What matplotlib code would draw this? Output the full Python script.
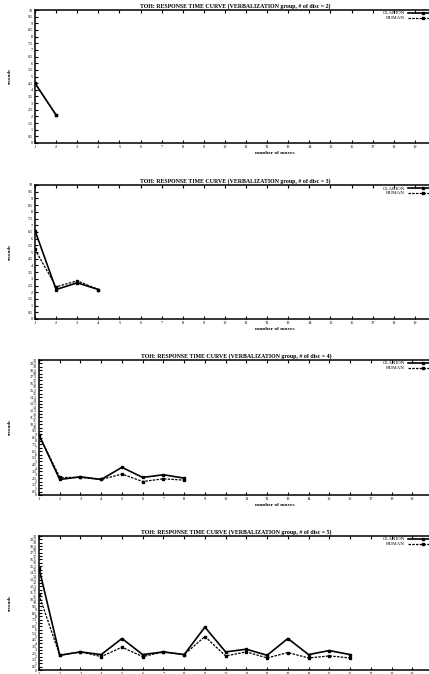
import numpy as np
import matplotlib
matplotlib.use("Agg")
import matplotlib.pyplot as plt

# one panel per number of discs; x = move number
discs = [2, 3, 4, 5]

clarion = [
    [4.5, 2.1],
    [6.6, 2.2, 2.7, 2.2],
    [8.9, 2.3, 2.7, 2.3, 4.1, 2.6, 3.0, 2.5],
    [15.2, 2.2, 2.7, 2.3, 4.7, 2.3, 2.7, 2.3, 6.4, 2.7, 3.1, 2.2, 4.7, 2.3, 2.9, 2.3],
]
human = [
    [4.5, 2.1],
    [5.2, 2.4, 2.85, 2.2],
    [8.9, 2.6, 2.6, 2.3, 3.1, 2.0, 2.4, 2.2],
    [11.2, 2.2, 2.7, 2.0, 3.4, 2.0, 2.7, 2.3, 5.0, 2.1, 2.7, 1.8, 2.6, 1.8, 2.1, 1.8],
]
y_max = [10, 10, 20, 20]
x_ticks = list(range(1, 21))
# the "20" label falls outside the cropped picture, so it is left blank
x_labels = [str(v) for v in x_ticks[:-1]] + [""]

# panel boxes in pixels (left, top, right, bottom) - the right edge is cut off like the original
W, H = 429, 674
boxes = [
    (35, 10, 436, 143),
    (35, 185, 436, 319),
    (39, 360, 433, 495),
    (39, 536, 433, 670),
]

plt.rcParams["font.family"] = ["Liberation Serif", "DejaVu Serif"]

fig = plt.figure(figsize=(W / 100, H / 100), dpi=100)

for i, d in enumerate(discs):
    l, t, r, b = boxes[i]
    ax = fig.add_axes([l / W, (H - b) / H, (r - l) / W, (b - t) / H])

    xs = np.arange(1, len(clarion[i]) + 1)
    ax.plot(xs, clarion[i], "-", color="black", lw=1.2, marker="s", ms=1.6, label="CLARION")
    ax.plot(np.arange(1, len(human[i]) + 1), human[i], "--", color="black", lw=0.9,
            dashes=(2, 1), marker="s", ms=1.6, label="HUMAN")

    ax.set_xlim(1, 20)
    ax.set_ylim(0, y_max[i])
    ax.set_xticks(x_ticks)
    ax.set_xticklabels(x_labels)
    yt = np.arange(0, y_max[i] + 0.01, 0.5)
    ax.set_yticks(yt)
    ax.set_yticklabels(["%g" % v for v in yt])

    ax.tick_params(axis="x", direction="in", top=True, length=2, width=0.8,
                   labelsize=3.2, pad=1.5)
    ax.tick_params(axis="y", direction="in", right=True, length=2, width=0.8,
                   labelsize=3.0, pad=1.5)
    for s in ax.spines.values():
        s.set_linewidth(1.1)

    ax.set_title("TOH: RESPONSE TIME CURVE (VERBALIZATION group, # of disc = %d)" % d,
                 fontsize=4.2, fontweight="bold", pad=2)
    ax.set_ylabel("seconds", fontsize=3.5, fontweight="bold")
    ax.yaxis.set_label_coords(-(l - 12) / (r - l), 0.5)
    ax.set_xlabel("number of moves", fontsize=3.8, fontweight="bold")
    ax.xaxis.set_label_coords((275 - l) / (r - l), -8.5 / (b - t))

    ax.legend(loc="upper right", bbox_to_anchor=(438 / W, (H - t - 1) / H),
              bbox_transform=fig.transFigure, frameon=False, markerfirst=False,
              fontsize=3.6, handlelength=6, handletextpad=0.6, labelspacing=0.05,
              borderpad=0, borderaxespad=0)

fig.savefig("out.png", dpi=100)
